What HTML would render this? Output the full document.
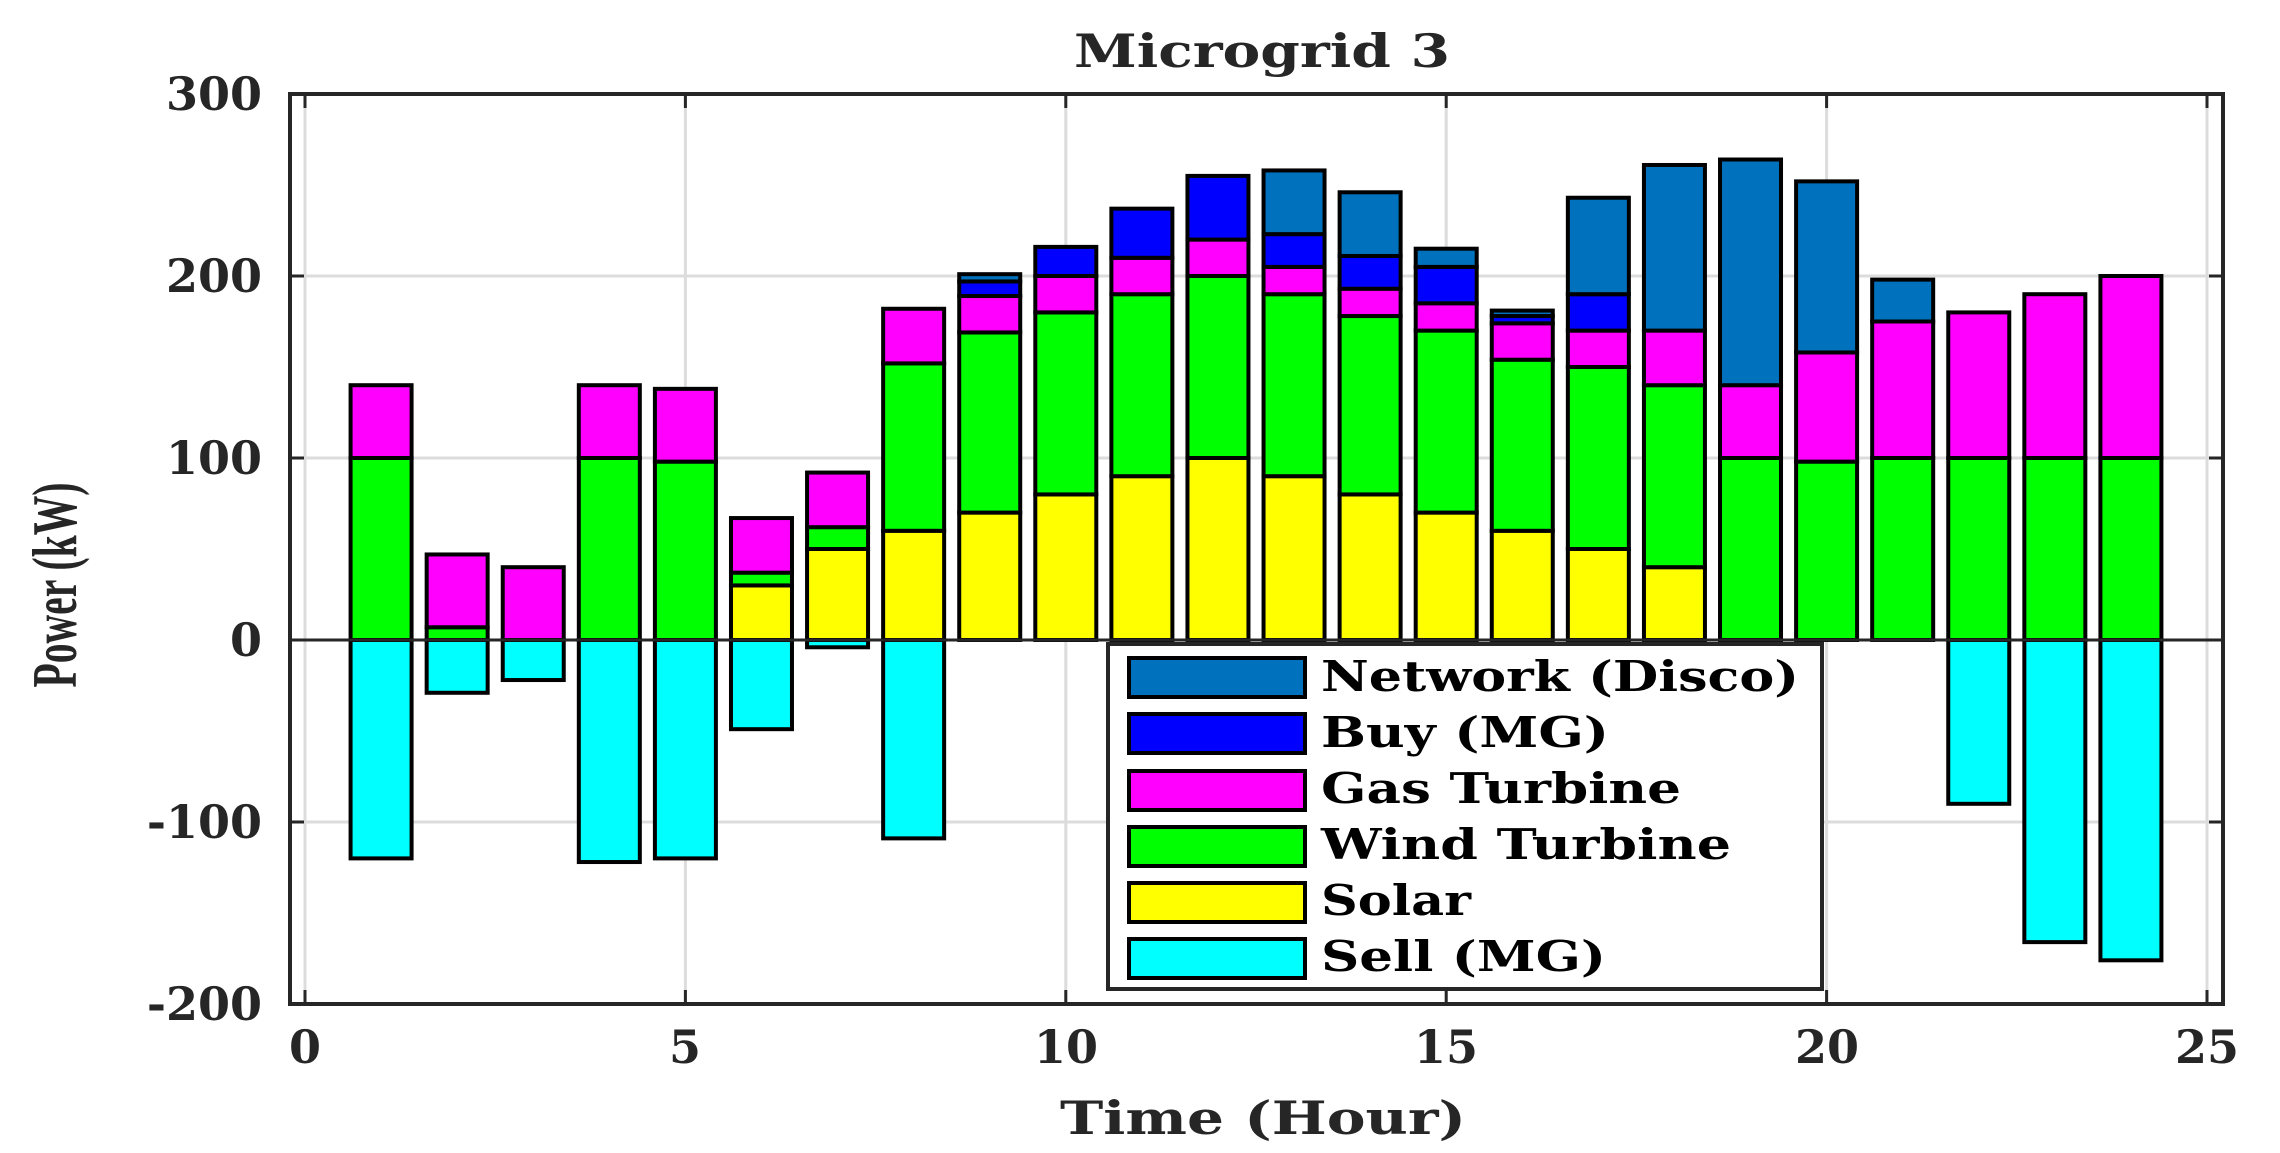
<!DOCTYPE html>
<html><head><meta charset="utf-8"><style>
html,body{margin:0;padding:0;background:#fff;}
svg{display:block;}
text{font-family:"DejaVu Serif","Liberation Serif",serif;font-weight:bold;fill:#262626;}
</style></head><body>
<svg id="c" width="2280" height="1153" viewBox="0 0 2280 1153" xmlns="http://www.w3.org/2000/svg">
<rect x="0" y="0" width="2280" height="1153" fill="#fff"/>
<g id="grid" stroke="#dcdcdc" stroke-width="3"></g>
<g id="bars" stroke="#000" stroke-width="4"></g>
<line x1="290" y1="640" x2="2223" y2="640" stroke="#262626" stroke-width="3"/>
<g id="ticks" stroke="#262626" stroke-width="3"></g>
<rect x="290" y="94" width="1933" height="910" fill="none" stroke="#262626" stroke-width="4"/>
<g font-size="46" text-anchor="end">
<text x="262" y="110">300</text>
<text x="262" y="292">200</text>
<text x="262" y="474">100</text>
<text x="262" y="656">0</text>
<text x="262" y="838">-100</text>
<text x="262" y="1020">-200</text>
</g>
<g font-size="46" text-anchor="middle">
<text x="305" y="1063">0</text>
<text x="685" y="1063">5</text>
<text x="1066" y="1063">10</text>
<text x="1446" y="1063">15</text>
<text x="1827" y="1063">20</text>
<text x="2207" y="1063">25</text>
</g>
<text x="1262" y="67" font-size="46" text-anchor="middle" textLength="376" lengthAdjust="spacingAndGlyphs">Microgrid 3</text>
<text x="1263" y="1134" font-size="46" text-anchor="middle" textLength="406" lengthAdjust="spacingAndGlyphs">Time (Hour)</text>
<text transform="translate(76,585) rotate(-90)" font-size="64" text-anchor="middle" textLength="205" lengthAdjust="spacingAndGlyphs" style="font-family:'Liberation Serif',serif">Power (kW)</text>
<rect x="1108" y="644" width="714" height="345" fill="#fff" stroke="#262626" stroke-width="4"/>
<g stroke="#000" stroke-width="4">
<rect x="1129" y="658" width="176" height="39" fill="#0072BD"/>
<rect x="1129" y="714" width="176" height="39" fill="#0000FF"/>
<rect x="1129" y="771" width="176" height="39" fill="#FF00FF"/>
<rect x="1129" y="827" width="176" height="39" fill="#00FF00"/>
<rect x="1129" y="883" width="176" height="39" fill="#FFFF00"/>
<rect x="1129" y="939" width="176" height="39" fill="#00FFFF"/>
</g>
<g font-size="42">
<text x="1321" y="691" style="fill:#000" textLength="478" lengthAdjust="spacingAndGlyphs">Network (Disco)</text>
<text x="1321" y="747" style="fill:#000" textLength="288" lengthAdjust="spacingAndGlyphs">Buy (MG)</text>
<text x="1321" y="803" style="fill:#000" textLength="360" lengthAdjust="spacingAndGlyphs">Gas Turbine</text>
<text x="1321" y="859" style="fill:#000" textLength="410" lengthAdjust="spacingAndGlyphs">Wind Turbine</text>
<text x="1321" y="915" style="fill:#000" textLength="150" lengthAdjust="spacingAndGlyphs">Solar</text>
<text x="1321" y="971" style="fill:#000" textLength="285" lengthAdjust="spacingAndGlyphs">Sell (MG)</text>
</g>
</svg>
<script>
(function(){
var NS="http://www.w3.org/2000/svg";
function X(t){return 305+76.08*t;}
function Y(v){return 640-1.82*v;}
function el(g,n,a){var e=document.createElementNS(NS,n);for(var k in a)e.setAttribute(k,a[k]);document.getElementById(g).appendChild(e);}
for(var t=0;t<=25;t+=5){el("grid","line",{x1:X(t),y1:94,x2:X(t),y2:1004});}
[300,200,100,-100,-200].forEach(function(v){el("grid","line",{x1:290,y1:Y(v),x2:2223,y2:Y(v)});});
for(var t=0;t<=25;t+=5){el("ticks","line",{x1:X(t),y1:1004,x2:X(t),y2:990});el("ticks","line",{x1:X(t),y1:94,x2:X(t),y2:108});}
[300,200,100,0,-100,-200].forEach(function(v){el("ticks","line",{x1:290,y1:Y(v),x2:304,y2:Y(v)});el("ticks","line",{x1:2223,y1:Y(v),x2:2209,y2:Y(v)});});
var d=[
[0,100,40,0,0,-120],[0,7,40,0,0,-29],[0,0,40,0,0,-22],[0,100,40,0,0,-122],[0,98,40,0,0,-120],
[30,7,30,0,0,-49],[50,12,30,0,0,-4],[60,92,30,0,0,-109],[70,99,20,8,4,0],[80,100,20,16,0,0],
[90,100,20,27,0,0],[100,100,20,35,0,0],[90,100,15,18,35,0],[80,98,15,18,35,0],[70,100,15,20,10,0],
[60,94,20,4,3,0],[50,100,20,20,53,0],[40,100,30,0,91,0],[0,100,40,0,124,0],[0,98,60,0,94,0],
[0,100,75,0,23,0],[0,100,80,0,0,-90],[0,100,90,0,0,-166],[0,100,100,0,0,-176]];
var cols=["#FFFF00","#00FF00","#FF00FF","#0000FF","#0072BD"];
d.forEach(function(r,i){
 var x=X(i+1)-30.5,base=0;
 for(var k=0;k<5;k++){if(r[k]>0){el("bars","rect",{x:x,y:Y(base+r[k]),width:61,height:1.82*r[k],fill:cols[k]});base+=r[k];}}
 if(r[5]<0){el("bars","rect",{x:x,y:640,width:61,height:-1.82*r[5],fill:"#00FFFF"});}
});
})();
</script>
</body></html>
